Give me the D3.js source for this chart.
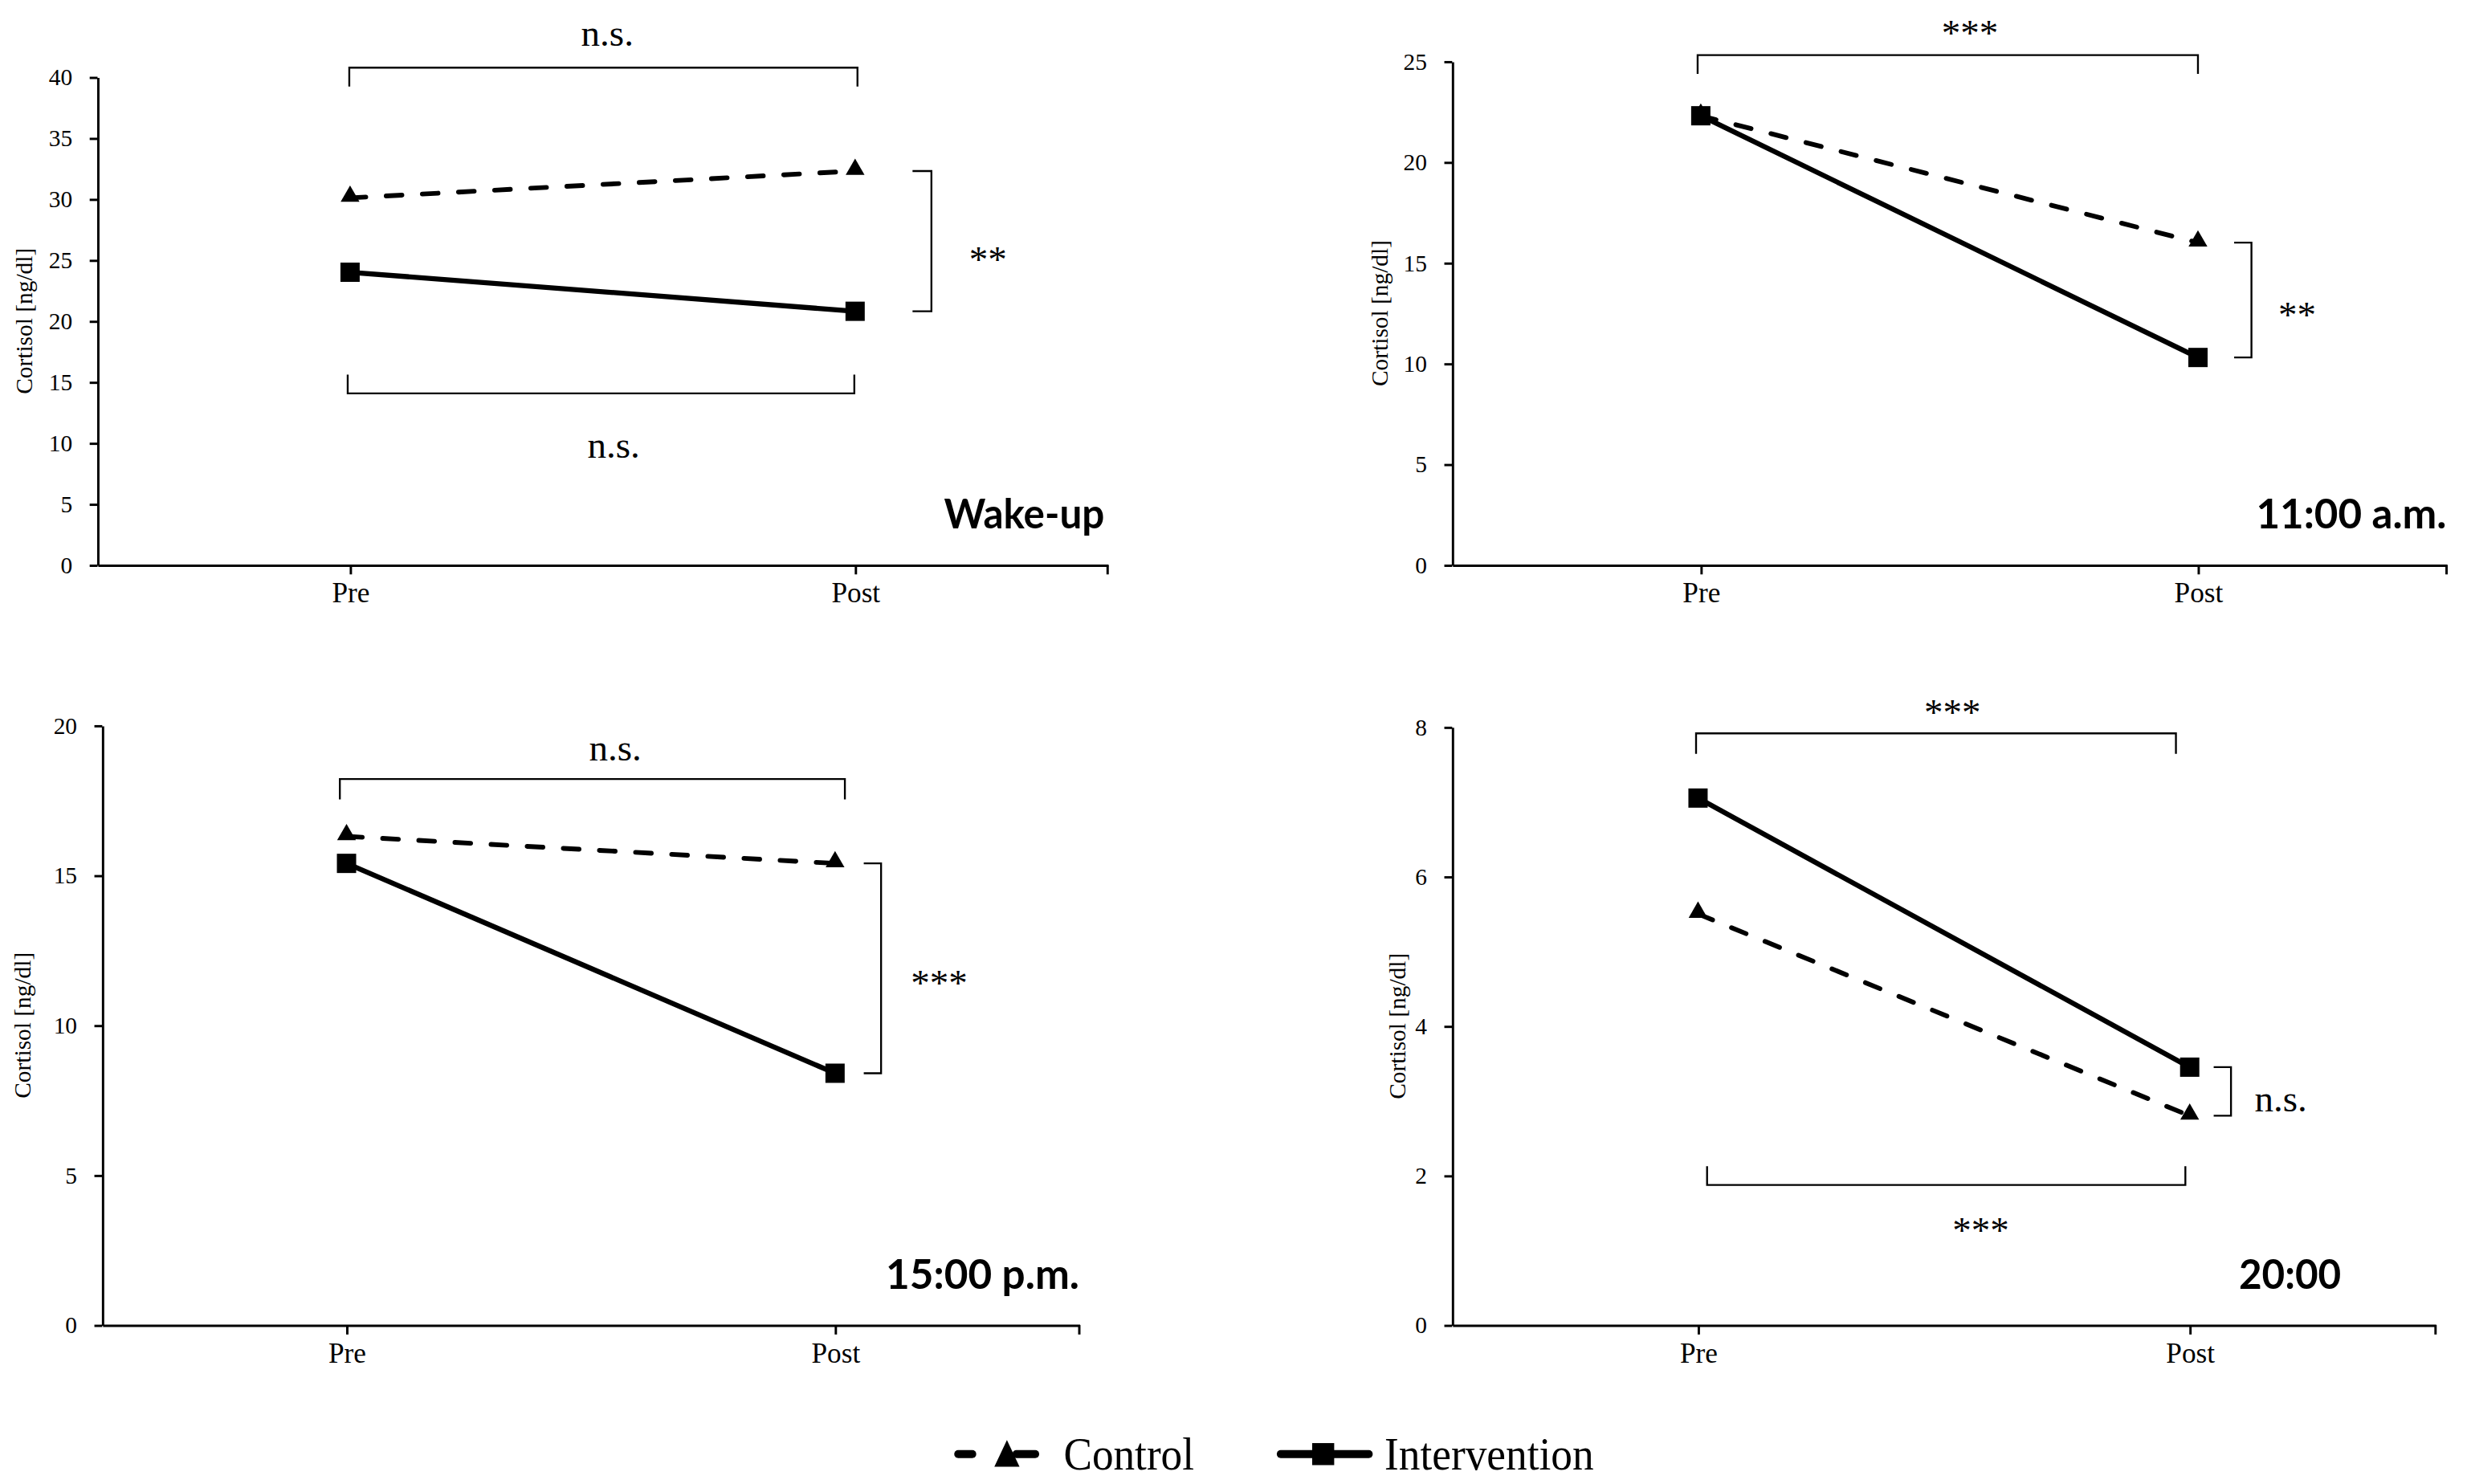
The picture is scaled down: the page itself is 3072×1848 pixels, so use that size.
<!DOCTYPE html>
<html><head><meta charset="utf-8">
<script src="https://cdn.jsdelivr.net/npm/d3@7"></script>
<style>html,body{margin:0;padding:0;background:#fff;} svg{display:block}</style>
</head><body><div id="chart"></div>
<script>
// ---- data ----
const categories = ["Pre", "Post"];
const panelTitles = ["Wake-up", "11:00 a.m.", "15:00 p.m.", "20:00"];
const controlPre = [30.1, 22.3, 16.3, 5.5];
const controlPost = [32.3, 16.0, 15.4, 2.8];
const interventionPre = [24.0, 22.3, 15.4, 7.05];
const interventionPost = [20.8, 10.3, 8.4, 3.45];
const yMax = [40, 25, 20, 8];
const yStep = [5, 5, 5, 2];
const sigTop = ["n.s.", "***", "n.s.", "***"];
const sigBottom = ["n.s.", "", "", "***"];
const sigRight = ["**", "**", "***", "n.s."];
const yTitle = "Cortisol [ng/dl]";
const legendLabels = ["Control", "Intervention"];

// ---- layout (display units, scaled by viewBox) ----
const W = 1568, H = 943;
const layout = [
  {ax0:62, ax1:704, ay0:49, ay1:359, titleDx:-47, label:[702,336], labelLen:102,
   top:{y:43,x0:222,x1:545,leg:12,tx:386,ty:29},
   bottom:{y:250,x0:221,x1:543,leg:-12,tx:390,ty:291},
   right:{x:592,arm:12,tx:616,ty:173}},
  {ax0:923, ax1:1555, ay0:39, ay1:359, titleDx:-46, label:[1555,336], labelLen:121,
   top:{y:35,x0:1079,x1:1397,leg:12,tx:1252,ty:29},
   bottom:null,
   right:{x:1431,arm:11,tx:1448,ty:208}},
  {ax0:65, ax1:686, ay0:461, ay1:842, titleDx:-51, label:[686,819], labelLen:123,
   top:{y:495,x0:216,x1:537,leg:13,tx:391,ty:483},
   bottom:null,
   right:{x:560,arm:11,tx:579,ty:633}},
  {ax0:923, ax1:1548, ay0:462, ay1:842, titleDx:-35, label:[1488,819], labelLen:65,
   top:{y:466,x0:1078,x1:1383,leg:13,tx:1241,ty:461},
   bottom:{y:753,x0:1085,x1:1389,leg:-12,tx:1259,ty:790},
   right:{x:1418,arm:11,tx:1433,ty:706}}
];
const serif = "'Liberation Serif','Times New Roman',serif";

const svg = d3.select("#chart").append("svg")
  .attr("width", 3072).attr("height", 1848)
  .attr("viewBox", `0 0 ${W} ${H}`).attr("preserveAspectRatio", "none");
svg.append("rect").attr("width", W).attr("height", H).attr("fill", "#fff");

panelTitles.forEach((title, i) => {
  const L = layout[i];
  const g = svg.append("g");
  const x = d3.scalePoint().domain(categories).range([L.ax0, L.ax1]).padding(0.5);
  const y = d3.scaleLinear().domain([0, yMax[i]]).range([L.ay1, L.ay0]);

  // y axis
  const ya = g.append("g").attr("transform", `translate(${L.ax0},0)`)
    .call(d3.axisLeft(y).tickValues(d3.range(0, yMax[i] + 1e-9, yStep[i]))
      .tickSize(5).tickSizeOuter(0).tickPadding(11));
  ya.selectAll("path,line").attr("stroke", "#000").attr("stroke-width", 1.5);
  ya.selectAll("text").attr("font-family", serif).attr("font-size", 15).attr("fill", "#000");

  // x axis
  const xa = g.append("g").attr("transform", `translate(0,${L.ay1})`)
    .call(d3.axisBottom(x).tickSize(6).tickSizeOuter(0).tickPadding(4));
  xa.selectAll("path,line").attr("stroke", "#000").attr("stroke-width", 1.5);
  xa.selectAll("text").attr("font-family", serif).attr("font-size", 18).attr("fill", "#000")
    .attr("y", 11);
  xa.append("line").attr("x1", L.ax1).attr("x2", L.ax1).attr("y1", 0).attr("y2", 6)
    .attr("stroke", "#000").attr("stroke-width", 1.5);

  // y title
  g.append("text").attr("transform", `translate(${L.ax0 + L.titleDx},${(L.ay0 + L.ay1) / 2}) rotate(-90)`)
    .attr("text-anchor", "middle").attr("dy", "0.35em")
    .attr("font-family", serif).attr("font-size", 15).attr("fill", "#000").text(yTitle);

  const line = d3.line().x(d => x(d.c)).y(d => y(d.v));
  const ctrl = [{c: categories[0], v: controlPre[i]}, {c: categories[1], v: controlPost[i]}];
  const intv = [{c: categories[0], v: interventionPre[i]}, {c: categories[1], v: interventionPost[i]}];

  g.append("path").attr("d", line(ctrl)).attr("fill", "none").attr("stroke", "#000")
    .attr("stroke-width", 3).attr("stroke-dasharray", "10,13").attr("stroke-linecap", "round");
  g.append("path").attr("d", line(intv)).attr("fill", "none").attr("stroke", "#000")
    .attr("stroke-width", 3.2);

  g.selectAll(".tri").data(ctrl).enter().append("path")
    .attr("d", d3.symbol(d3.symbolTriangle, 62)())
    .attr("transform", d => `translate(${x(d.c)},${y(d.v) - 1})`).attr("fill", "#000");
  g.selectAll(".sq").data(intv).enter().append("path")
    .attr("d", d3.symbol(d3.symbolSquare, 150)())
    .attr("transform", d => `translate(${x(d.c)},${y(d.v)})`).attr("fill", "#000");

  const br = {stroke: "#000", "stroke-width": 1.2, fill: "none"};
  function bracketH(b) {
    const p = g.append("path").attr("d",
      `M${b.x0},${b.y + b.leg}V${b.y}H${b.x1}V${b.y + b.leg}`);
    Object.entries(br).forEach(([k, v]) => p.attr(k, v));
  }
  const sigText = (tx, ty, txt, anchor) => g.append("text").attr("x", tx).attr("y", ty)
    .attr("text-anchor", anchor).attr("font-family", serif).attr("font-size", 24)
    .attr("fill", "#000").text(txt);

  bracketH(L.top); sigText(L.top.tx, L.top.ty, sigTop[i], "middle");
  if (L.bottom && sigBottom[i]) { bracketH(L.bottom); sigText(L.bottom.tx, L.bottom.ty, sigBottom[i], "middle"); }

  const yA = y(controlPost[i]), yB = y(interventionPost[i]);
  const r = L.right;
  const rp = g.append("path").attr("d",
    `M${r.x - r.arm},${yA}H${r.x}V${yB}H${r.x - r.arm}`);
  Object.entries(br).forEach(([k, v]) => rp.attr(k, v));
  sigText(r.tx, r.ty, sigRight[i], "start");

  // panel label
  g.append("text").attr("x", L.label[0]).attr("y", L.label[1]).attr("text-anchor", "end")
    .attr("font-family", "Lato, 'Open Sans', sans-serif").attr("font-weight", 700)
    .attr("font-size", 26).attr("fill", "#000")
    .attr("textLength", L.labelLen).attr("lengthAdjust", "spacingAndGlyphs").text(title);
});

// ---- legend ----
const lg = svg.append("g");
const ly = 924;
// Control: dashed segments with triangle
[[609, 618], [646, 658]].forEach(s => lg.append("line").attr("x1", s[0]).attr("x2", s[1])
  .attr("y1", ly).attr("y2", ly).attr("stroke", "#000").attr("stroke-width", 5).attr("stroke-linecap", "round"));
lg.append("path").attr("d", "M0,-9L8,8L-8,8Z").attr("transform", `translate(640,${ly})`).attr("fill", "#000");
lg.append("text").attr("x", 676).attr("y", 934).attr("font-family", serif).attr("font-size", 29)
  .attr("textLength", 83).attr("lengthAdjust", "spacingAndGlyphs").attr("fill", "#000").text(legendLabels[0]);
// Intervention: solid with square
lg.append("line").attr("x1", 814).attr("x2", 870).attr("y1", ly).attr("y2", ly)
  .attr("stroke", "#000").attr("stroke-width", 5).attr("stroke-linecap", "round");
lg.append("path").attr("d", d3.symbol(d3.symbolSquare, 196)()).attr("transform", `translate(841,${ly})`).attr("fill", "#000");
lg.append("text").attr("x", 880).attr("y", 934).attr("font-family", serif).attr("font-size", 29)
  .attr("textLength", 133).attr("lengthAdjust", "spacingAndGlyphs").attr("fill", "#000").text(legendLabels[1]);
</script>
</body></html>
